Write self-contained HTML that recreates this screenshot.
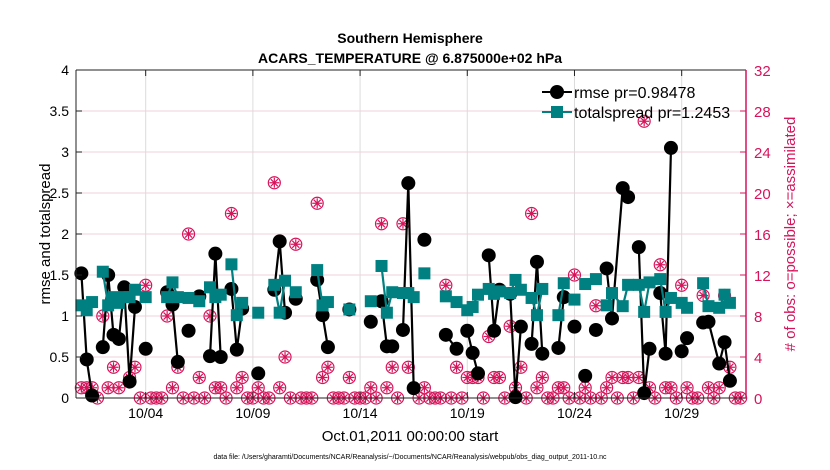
<!DOCTYPE html>
<html><head><meta charset="utf-8"><style>
body{margin:0;background:#fff;}
svg{display:block;font-family:"Liberation Sans",sans-serif;}
</style></head><body>
<svg id="chart" width="830" height="470" viewBox="0 0 830 470">
<g id="grid"></g><g id="obs"></g><g id="lines"></g><g id="axes"></g>
<text x="410" y="43" text-anchor="middle" font-size="14" font-weight="bold">Southern Hemisphere</text>
<text x="410" y="63" text-anchor="middle" font-size="14" font-weight="bold">ACARS_TEMPERATURE @ 6.875000e+02 hPa</text>
<text transform="translate(50,234) rotate(-90)" text-anchor="middle" font-size="15">rmse and totalspread</text>
<text transform="translate(795,234) rotate(-90)" text-anchor="middle" font-size="15" fill="#d6145a"># of obs: o=possible; ×=assimilated</text>
<text x="410" y="441" text-anchor="middle" font-size="15">Oct.01,2011 00:00:00 start</text>
<text x="410" y="459" text-anchor="middle" font-size="7">data file: /Users/gharamti/Documents/NCAR/Reanalysis/~/Documents/NCAR/Reanalysis/webpub/obs_diag_output_2011-10.nc</text>
<g>
<line x1="542" y1="92" x2="572" y2="92" stroke="#000" stroke-width="2"/><circle cx="557" cy="92" r="7" fill="#000"/>
<text x="574" y="98" font-size="16">rmse pr=0.98478</text>
<line x1="542" y1="112" x2="572" y2="112" stroke="#008080" stroke-width="2"/><rect x="551" y="106" width="12" height="12" fill="#008080"/>
<text x="574" y="118" font-size="16">totalspread pr=1.2453</text>
</g>
</svg>
<script>
const rmseT=[1,1.25,1.5,null,2,2.25,2.5,2.75,3,3.25,3.5,null,4,null,5,5.25,5.5,null,6,null,6.5,null,7,7.25,7.5,null,8,8.25,8.5,null,9.25,null,10,10.25,10.5,null,11,null,12,12.25,12.5,null,13.5,null,14.5,null,15,15.25,15.5,null,16,16.25,16.5,null,17,null,18,18.5,null,19,19.25,19.5,null,20,20.25,20.5,null,21,21.25,21.5,null,22,22.25,22.5,null,23.25,23.5,null,24,null,24.5,null,25,null,25.5,25.75,26.25,26.5,null,27,27.25,27.5,null,28,28.25,28.5,null,29,29.25,null,30,30.25,30.75,31,31.25];
const rmseV=[1.52,0.47,0.03,null,0.62,1.5,0.77,0.72,1.35,0.2,1.11,null,0.6,null,1.29,1.14,0.44,null,0.82,null,1.24,null,0.51,1.76,0.5,null,1.33,0.59,1.09,null,0.3,null,1.32,1.91,1.04,null,1.21,null,1.44,1.01,0.62,null,1.08,null,0.93,null,1.18,0.63,0.63,null,0.83,2.62,0.12,null,1.93,null,0.77,0.6,null,0.82,0.55,0.3,null,1.74,0.82,1.32,null,1.27,0.01,0.87,null,0.66,1.66,0.54,null,0.61,1.23,null,0.87,null,0.27,null,0.83,null,1.58,0.97,2.56,2.45,null,1.84,0.06,0.6,null,1.28,0.54,3.05,null,0.57,0.73,null,0.92,0.93,0.42,0.68,0.21];
const spreadV=[1.13,1.07,1.17,null,1.54,1.13,1.23,1.16,1.23,1.23,1.32,null,1.23,null,1.23,1.41,1.23,null,1.22,null,1.18,null,1.35,1.23,1.26,null,1.63,1.01,1.16,null,1.04,null,1.38,1.04,1.43,null,1.29,null,1.56,1.13,1.17,null,1.08,null,1.18,null,1.61,1.04,1.29,null,1.28,1.28,1.23,null,1.52,null,1.24,1.17,null,1.07,1.11,1.26,null,1.33,1.27,1.3,null,1.28,1.44,1.32,null,1.22,1.01,1.33,null,1.01,1.4,null,1.2,null,1.39,null,1.45,null,1.13,1.28,1.12,1.38,null,1.38,1.05,1.41,null,1.45,1.05,1.22,null,1.16,1.1,null,1.4,1.12,1.1,1.26,1.16];
const obsT=[1,1.25,1.5,2,2.25,2.5,2.75,3,3.25,3.5,4,5,5.25,5.5,6,6.5,7,7.25,7.5,8,8.25,8.5,9.25,10,10.25,10.5,11,12,12.25,12.5,13.5,14.5,15,15.25,15.5,16,16.25,16.5,17,18,18.5,19,19.25,19.5,20,20.25,20.5,21,21.25,21.5,22,22.25,22.5,23.25,23.5,24,24.5,25,25.5,25.75,26.25,26.5,27,27.25,27.5,28,28.25,28.5,29,29.25,30,30.25,30.75,31,31.25];
const obsV=[1,1,1,8,1,3,1,10,2,3,11,8,1,3,16,2,8,1,1,18,1,2,1,21,1,4,15,19,2,3,2,1,17,1,3,17,3,1,1,11,3,2,2,2,6,2,2,7,1,3,18,1,2,1,1,12,1,9,1,2,2,2,2,27,1,13,1,1,11,1,10,1,1,10,3];
const xTicks=[4,9,14,19,24,29];
const xTickLabels=["10/04","10/09","10/14","10/19","10/24","10/29"];
const yTicks=[0,0.5,1,1.5,2,2.5,3,3.5,4];
const y2Ticks=[0,4,8,12,16,20,24,28,32];

const L=76,R=746,T=70,B=398,XMIN=0.75,XMAX=32;
const xs=t=>L+(t-XMIN)/(XMAX-XMIN)*(R-L);
const ys=v=>B-v/4*(B-T);
const y2s=v=>B-v/32*(B-T);
const NS="http://www.w3.org/2000/svg";
function mk(tag,attrs,parent){const e=document.createElementNS(NS,tag);for(const k in attrs)e.setAttribute(k,attrs[k]);parent.appendChild(e);return e;}
const grid=document.getElementById('grid'),axes=document.getElementById('axes'),obsG=document.getElementById('obs'),lines=document.getElementById('lines');
mk('rect',{x:L,y:T,width:R-L,height:B-T,fill:'#fff'},grid);
xTicks.forEach((t,i)=>{
  const g=mk('line',{x1:xs(t),x2:xs(t),y1:T,y2:B,stroke:'#dcdcdc','stroke-width':1},grid);
  
  
  mk('line',{x1:xs(t),x2:xs(t),y1:B,y2:B-6,stroke:'#222'},axes);
  mk('line',{x1:xs(t),x2:xs(t),y1:T,y2:T+6,stroke:'#222'},axes);
  const tx=mk('text',{x:xs(t),y:B+20,'text-anchor':'middle','font-size':14},axes);
  tx.textContent=xTickLabels[i];
  
  
});
y2Ticks.forEach(v=>{
  const g=mk('line',{x1:L,x2:R,y1:y2s(v),y2:y2s(v),stroke:'#f3cfdc','stroke-width':1},grid);
  
  
  mk('line',{x1:R,x2:R-6,y1:y2s(v),y2:y2s(v),stroke:'#d6145a'},axes);
  const tx=mk('text',{x:R+8,y:y2s(v)+6,'font-size':15,fill:'#d6145a'},axes);
  tx.textContent=v;
  
  
});
yTicks.forEach(v=>{
  mk('line',{x1:L,x2:L+6,y1:ys(v),y2:ys(v),stroke:'#222'},axes);
  const tx=mk('text',{x:L-7,y:ys(v)+5,'text-anchor':'end','font-size':14},axes);
  tx.textContent=v;
  
  
});
mk('line',{x1:L,x2:R,y1:T,y2:T,stroke:'#222'},axes);
mk('line',{x1:L,x2:R,y1:B,y2:B,stroke:'#222'},axes);
mk('line',{x1:L,x2:L,y1:T,y2:B,stroke:'#222'},axes);
mk('line',{x1:R,x2:R,y1:T,y2:B,stroke:'#d6145a','stroke-width':1.5},axes);

const obsMap={};obsT.forEach((t,i)=>obsMap[t]=obsV[i]);
for(let t=1;t<=31.76;t+=0.25){
  const v=obsMap[t]!==undefined?obsMap[t]:0;
  const cx=xs(t),cy=y2s(v);
  const g=mk('g',{stroke:'#d6145a','stroke-width':1.2,fill:'none'},obsG);
  
  
  mk('circle',{cx:cx,cy:cy,r:6},g);
  for(let a=0;a<4;a++){const an=a*Math.PI/4;mk('line',{x1:cx-5*Math.cos(an),y1:cy-5*Math.sin(an),x2:cx+5*Math.cos(an),y2:cy+5*Math.sin(an)},g);}
}
function series(vals,color,name,marker){
  let d='',pen=false;
  rmseT.forEach((t,i)=>{const v=vals[i];if(t===null||v===null){pen=false;return;}d+=(pen?'L':'M')+xs(t).toFixed(1)+' '+ys(v).toFixed(1);pen=true;});
  const p=mk('path',{d:d,fill:'none',stroke:color,'stroke-width':2.2},lines);
  
  
  rmseT.forEach((t,i)=>{const v=vals[i];if(t===null||v===null)return;
    let m;
    if(marker==='c')m=mk('circle',{cx:xs(t),cy:ys(v),r:7,fill:color},lines);
    else m=mk('rect',{x:xs(t)-6,y:ys(v)-6,width:12,height:12,fill:color},lines);
    
    
  });
}
series(rmseV,'#000','rmse','c');
series(spreadV,'#008080','totalspread','s');
</script>
</body></html>
